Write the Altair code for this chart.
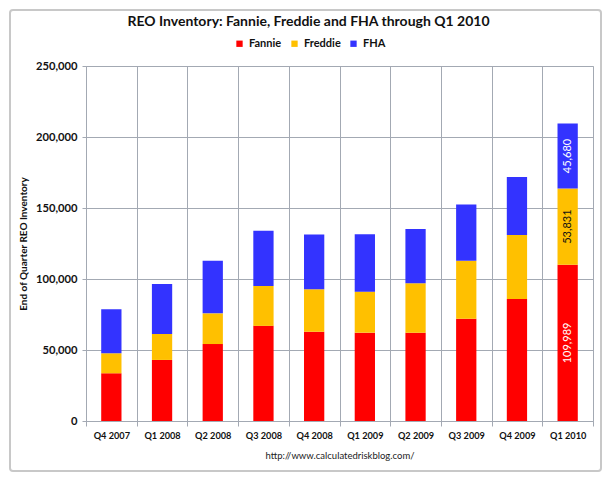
import altair as alt
import pandas as pd

quarters = ["Q4 2007", "Q1 2008", "Q2 2008", "Q3 2008", "Q4 2008",
            "Q1 2009", "Q2 2009", "Q3 2009", "Q4 2009", "Q1 2010"]
fannie = [33600, 43000, 54200, 67000, 62900, 62200, 62200, 72000, 86000, 109989]
freddie = [14100, 18300, 21600, 28100, 29800, 28900, 34800, 40900, 45000, 53831]
fha = [31000, 35200, 37000, 38900, 38700, 40400, 38200, 39500, 40800, 45680]
series = ["Fannie", "Freddie", "FHA"]
colors = ["#FF0000", "#FFC000", "#3333FF"]
y_ticks = [0, 50000, 100000, 150000, 200000, 250000]
label_quarter = "Q1 2010"

rows = []
for i, q in enumerate(quarters):
    for k, (name, vals) in enumerate(zip(series, [fannie, freddie, fha])):
        rows.append({"quarter": q, "series": name, "value": vals[i], "order": k})
df = pd.DataFrame(rows)

FONT = "Lato"
GRID = "#A3A9B3"

x_axis = alt.Axis(
    title="http://www.calculatedriskblog.com/",
    titleFont=FONT, titleFontSize=9.5, titleFontWeight="normal", titleColor="#222",
    titlePadding=10,
    labelAngle=0, labelFont=FONT, labelFontSize=9.2, labelFontWeight="bold",
    labelColor="#111", labelPadding=5,
    tickBand="extent", grid=True, gridColor=GRID, gridOpacity=1,
    tickColor=GRID, tickSize=5, domainColor=GRID,
)
y_axis = alt.Axis(
    title="End of Quarter REO Inventory",
    titleFont=FONT, titleFontSize=10, titleFontWeight="bold", titleColor="#111",
    titlePadding=7,
    values=y_ticks,
    format=",d", labelFont=FONT, labelFontSize=11.2, labelFontWeight="bold",
    labelColor="#111", labelPadding=5,
    grid=True, gridColor=GRID, gridOpacity=1,
    tickColor=GRID, tickSize=4, domainColor=GRID,
)
x_scale = alt.Scale(paddingInner=0, paddingOuter=0)
y_scale = alt.Scale(domain=[0, 250000])

bars = alt.Chart(df).mark_bar(width=alt.RelativeBandSize(0.4)).encode(
    x=alt.X("quarter:N", sort=quarters, scale=x_scale, axis=x_axis),
    y=alt.Y("value:Q", stack="zero", scale=y_scale, axis=y_axis),
    color=alt.Color(
        "series:N",
        scale=alt.Scale(domain=series, range=colors),
        legend=alt.Legend(
            title=None, orient="none", direction="horizontal",
            legendX=148, legendY=-28,
            symbolType="square", symbolSize=40, symbolStrokeWidth=0,
            labelFont=FONT, labelFontSize=11, labelFontWeight="bold", labelColor="#111",
            columnPadding=7, labelOffset=4,
        ),
    ),
    order=alt.Order("order:Q"),
)

labels = alt.Chart(df).transform_stack(
    stack="value", groupby=["quarter"], as_=["y0", "y1"],
    sort=[alt.SortField("order", order="ascending")],
).transform_calculate(
    mid="(datum.y0 + datum.y1) / 2"
).transform_filter(
    alt.datum.quarter == label_quarter
).mark_text(angle=270, font=FONT, fontSize=11, baseline="middle", align="center").encode(
    x=alt.X("quarter:N", sort=quarters, scale=x_scale, axis=x_axis),
    y=alt.Y("mid:Q", scale=y_scale, axis=y_axis),
    text=alt.Text("value:Q", format=","),
    color=alt.condition(alt.datum.series == "Freddie", alt.value("#111111"), alt.value("white")),
)

# decorative chart-area frame (Excel-style border around the whole chart)
frame = alt.Chart(pd.DataFrame({"frame": [0]})).mark_rect(
    fill=None, stroke="#C8C8C8", strokeWidth=2, cornerRadius=3, clip=False,
).encode(
    x=alt.value(-76), x2=alt.value(515), y=alt.value(-56), y2=alt.value(405),
)

chart = alt.layer(bars, labels, frame).properties(
    width=507,
    height=355,
    title=alt.TitleParams(
        "REO Inventory: Fannie, Freddie and FHA through Q1 2010",
        font=FONT, fontSize=14, fontWeight="bold", color="#111",
        anchor="middle", dx=-31, offset=-20,
    ),
    autosize=alt.AutoSizeParams(type="none"),
    padding={"left": 78, "top": 58, "right": 10, "bottom": 52},
).configure_view(
    fill="#EAF1FA", stroke=GRID,
).configure(background="white")

chart.save("out.html", embed_options={"renderer": "svg", "actions": False})
